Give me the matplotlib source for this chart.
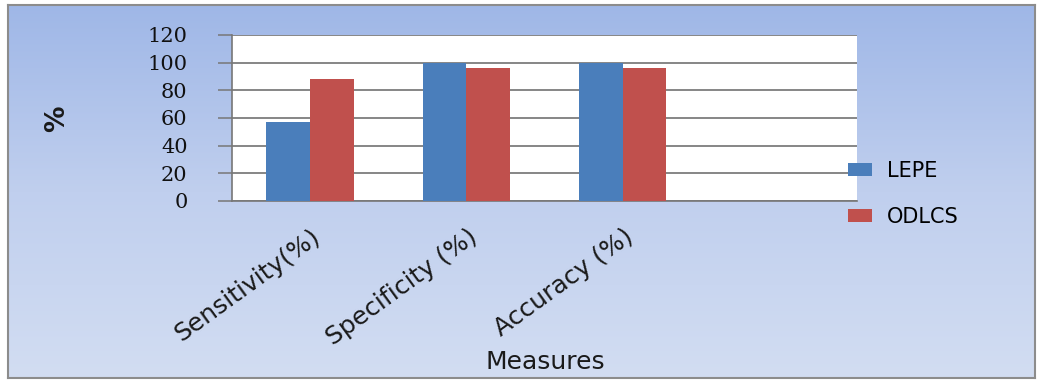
import numpy as np
import matplotlib.pyplot as plt
from matplotlib.colors import LinearSegmentedColormap
from matplotlib.transforms import ScaledTranslation

categories = ["Sensitivity(%)", "Specificity (%)", "Accuracy (%)"]
lepe = [57, 100, 100]
odlcs = [88, 96, 96]
series_names = ["LEPE", "ODLCS"]
yticks = [0, 20, 40, 60, 80, 100, 120]

blue = "#4a7ebb"
red = "#c0504d"

W, H = 1043, 383
fig = plt.figure(figsize=(W / 100, H / 100), dpi=100)

# chart-area background: soft blue gradient inside a gray frame
bg = fig.add_axes([8 / W, 5 / H, (1035 - 8) / W, (378 - 5) / H])
grad = np.linspace(0, 1, 256).reshape(-1, 1)
cmap = LinearSegmentedColormap.from_list("bg", ["#9fb7e7", "#c0cfee", "#d2ddf2"])
bg.imshow(grad, aspect="auto", cmap=cmap, extent=[0, 1, 0, 1], origin="upper")
bg.set_xticks([])
bg.set_yticks([])
for s in bg.spines.values():
    s.set_color("#8c8c8c")
    s.set_linewidth(1.5)

ax = fig.add_axes([232 / W, 1 - 201 / H, (857 - 232) / W, (201 - 35) / H])
ax.set_facecolor("white")

x = np.arange(len(categories))
w = 0.28
ax.bar(x - w / 2, lepe, width=w, color=blue, label=series_names[0], zorder=3)
ax.bar(x + w / 2, odlcs, width=w, color=red, label=series_names[1], zorder=3)

ax.set_xlim(-0.5, 3.5)
ax.set_ylim(0, 120)
ax.set_yticks(yticks)
ax.set_yticklabels([str(t) for t in yticks], family="DejaVu Serif", fontsize=15,
                   color="#111111")
ax.yaxis.grid(True, color="#666666", linewidth=1.1, zorder=0)
ax.tick_params(axis="y", length=10, width=1.1, color="#777777", pad=22)

ax.set_xticks(x)
ax.set_xticklabels(categories, rotation=36, ha="right", va="center",
                   rotation_mode="anchor", family="DejaVu Sans", fontsize=18,
                   color="#1a1a1a")
ax.tick_params(axis="x", length=0, pad=24)
# nudge the slanted labels a little to the right of their bar groups
shift = ScaledTranslation(8 / 100, 0, fig.dpi_scale_trans)
for lbl in ax.get_xticklabels():
    lbl.set_transform(lbl.get_transform() + shift)

for name in ["top", "right"]:
    ax.spines[name].set_visible(False)
ax.spines["left"].set_color("#777777")
ax.spines["bottom"].set_color("#777777")
ax.spines["left"].set_linewidth(1.2)
ax.spines["bottom"].set_linewidth(1.2)

fig.text(57 / W, 1 - 119 / H, "%", rotation=90, ha="center", va="center",
         fontsize=19, fontweight="bold", family="DejaVu Sans", color="#1a1a1a")
fig.text(545 / W, 1 - 362 / H, "Measures", ha="center", va="center",
         fontsize=18, family="DejaVu Sans", color="#1a1a1a")

fig.legend(loc="center left", bbox_to_anchor=(848 / W, 1 - 194 / H),
           frameon=False, borderpad=0, borderaxespad=0,
           prop={"family": "DejaVu Sans", "size": 15}, handlelength=1.15,
           handleheight=0.6, handletextpad=0.7, labelspacing=1.25)

fig.savefig("out.png", dpi=100)
